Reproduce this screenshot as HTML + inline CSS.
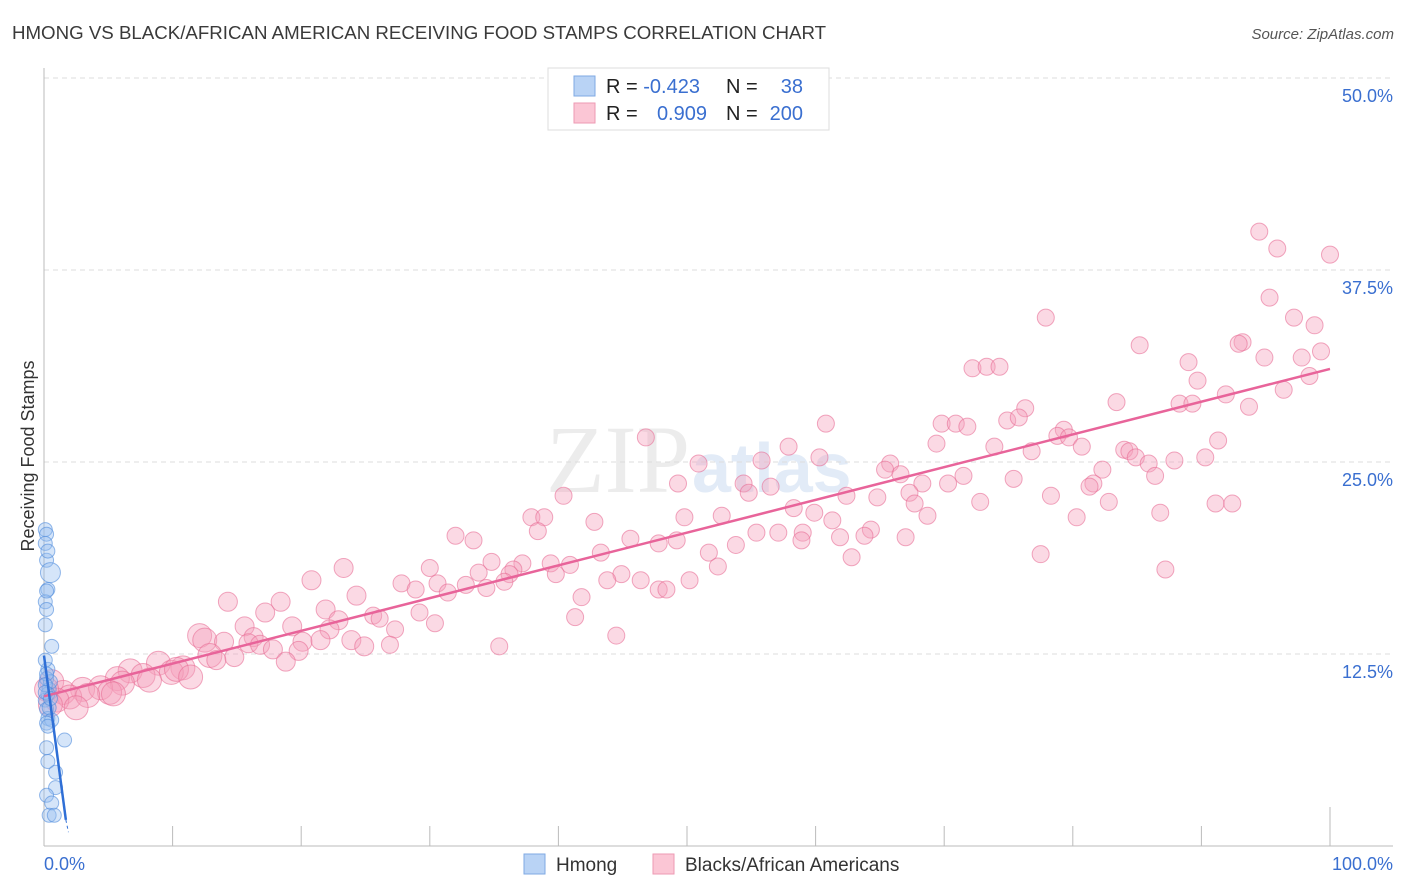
<!DOCTYPE html>
<html><head><meta charset="utf-8"><style>
body{margin:0;background:#fff;font-family:"Liberation Sans",sans-serif}
svg{display:block}
</style></head><body>
<svg id="chart" width="1406" height="892" viewBox="0 0 1406 892">
<text x="12" y="39" font-size="18.7" fill="#3a3a3a">HMONG VS BLACK/AFRICAN AMERICAN RECEIVING FOOD STAMPS CORRELATION CHART</text>
<text x="1394" y="39" font-size="15" fill="#555" font-style="italic" text-anchor="end">Source: ZipAtlas.com</text>
<text x="690" y="492" font-size="96" fill="#ececec" text-anchor="end" font-family="Liberation Serif,serif">ZIP</text>
<text x="692" y="492" font-size="70" fill="#e2ebf7" font-weight="bold">atlas</text>
<text transform="translate(34,456) rotate(-90)" font-size="18" fill="#333" text-anchor="middle">Receiving Food Stamps</text>
<g id="grid"></g>
<g id="axes"></g>
<g id="pink"></g>
<g id="blue"></g>
<g id="lines"></g>
<g>
<rect x="548" y="68" width="281" height="62" fill="#fff" stroke="#ddd"/>
<rect x="574" y="76" width="21" height="20" fill="#b9d3f5" stroke="#7fa9e3"/>
<rect x="574" y="103" width="21" height="20" fill="#fbc6d5" stroke="#ee9ab3"/>
<text x="606" y="93" font-size="20" fill="#222">R = <tspan fill="#3a6fd0">-0.423</tspan></text>
<text x="726" y="93" font-size="20" fill="#222">N = </text>
<text x="803" y="93" font-size="20" fill="#3a6fd0" text-anchor="end">38</text>
<text x="606" y="120" font-size="20" fill="#222">R = </text>
<text x="707" y="120" font-size="20" fill="#3a6fd0" text-anchor="end">0.909</text>
<text x="726" y="120" font-size="20" fill="#222">N = </text>
<text x="803" y="120" font-size="20" fill="#3a6fd0" text-anchor="end">200</text>
</g>
<g>
<rect x="524" y="854" width="21" height="20" fill="#b9d3f5" stroke="#7fa9e3"/>
<text x="556" y="871" font-size="19" fill="#333">Hmong</text>
<rect x="653" y="854" width="21" height="20" fill="#fbc6d5" stroke="#ee9ab3"/>
<text x="685" y="871" font-size="19" fill="#333">Blacks/African Americans</text>
</g>
</svg>
<script>
const yTicks=[12.5,25,37.5,50];
const yTickLabels=["12.5%","25.0%","37.5%","50.0%"];
const xTicks=[0,10,20,30,40,50,60,70,80,90,100];
const xEndLabels=["0.0%","100.0%"];
const pinkX=[94.5,95.9,100,95.3,77.9,97.2,98.8,85.2,93.2,92.9,99.3,94.9,97.8,89,72.2,73.3,74.3,89.7,96.4,98.4,91.9,83.4,88.3,89.3,93.7,76.3,74.9,75.8,60.8,69.8,70.9,71.8,79.3,78.8,79.7,46.8,91.3,69.4,73.9,57.9,76.8,80.7,84,84.4,84.9,60.3,55.8,85.9,87.9,90.3,50.9,65.8,65.4,66.6,82.3,86.4,75.4,71.5,49.3,54.4,56.5,81.6,81.3,68.3,70.3,40.4,54.8,62.4,64.8,67.3,78.3,72.8,82.8,67.7,91.1,92.4,58.3,59.9,86.8,37.9,38.9,49.8,52.7,61.3,68.7,80.3,42.8,38.4,55.4,57.1,59,64.3,32,33.4,45.6,47.8,49.2,53.8,58.9,61.9,63.8,67,43.3,51.7,77.5,62.8,34.8,37.2,39.4,40.9,30,36.5,36.2,52.4,87.2,23.3,33.8,39.8,44.9,46.4,43.8,50.2,20.8,27.8,30.6,28.9,32.8,34.4,35.8,47.8,48.4,31.4,24.3,41.8,14.3,18.4,21.9,17.2,29.2,25.6,26.1,22.9,41.3,15.6,30.4,19.3,27.3,22.2,44.5,12.1,12.5,14,16.3,15.9,16.8,20.1,21.5,23.9,17.8,19.8,24.9,26.9,35.4,12.9,14.8,13.4,18.8,8.9,10.8,9.9,10.3,6.7,7.7,8.2,5.7,11.4,6.1,3,4.4,5.1,0.6,1.5,2.0,3.4,1.0,2.5,5.4,0.2,0.5];
const pinkY=[40.0,38.9,38.5,35.7,34.4,34.4,33.9,32.6,32.8,32.7,32.2,31.8,31.8,31.5,31.1,31.2,31.2,30.3,29.7,30.6,29.4,28.9,28.8,28.8,28.6,28.5,27.7,27.9,27.5,27.5,27.5,27.3,27.1,26.7,26.6,26.6,26.4,26.2,26.0,26.0,25.7,26.0,25.8,25.7,25.3,25.3,25.1,24.9,25.1,25.3,24.9,24.9,24.5,24.2,24.5,24.1,23.9,24.1,23.6,23.6,23.4,23.6,23.4,23.6,23.6,22.8,23.0,22.8,22.7,23.0,22.8,22.4,22.4,22.3,22.3,22.3,22.0,21.7,21.7,21.4,21.4,21.4,21.5,21.2,21.5,21.4,21.1,20.5,20.4,20.4,20.4,20.6,20.2,19.9,20.0,19.7,19.9,19.6,19.9,20.1,20.2,20.1,19.1,19.1,19.0,18.8,18.5,18.4,18.4,18.3,18.1,18,17.7,18.2,18.0,18.1,17.8,17.7,17.7,17.3,17.3,17.3,17.3,17.1,17.1,16.7,17.0,16.8,17.2,16.7,16.7,16.5,16.3,16.2,15.9,15.9,15.4,15.2,15.2,15.0,14.8,14.7,14.9,14.3,14.5,14.3,14.1,14.1,13.7,13.7,13.4,13.3,13.6,13.2,13.1,13.3,13.4,13.4,12.8,12.7,13.0,13.1,13.0,12.4,12.3,12.1,12.0,11.9,11.6,11.3,11.5,11.4,11.1,10.8,10.9,11.0,10.6,10.2,10.3,10.0,10.7,10.0,9.7,9.8,9.5,9.0,9.9,10.2,9.2];
const blueX=[0.1,0.2,0.1,0.2,0.5,0.3,0.1,0.2,0.1,0.6,0.3,0.2,0.4,0.1,0.2,0.3,0.6,1.6,0.2,0.3,0.9,0.9,0.2,0.6,0.4,0.8,0.1,0.5,0.2,0.3,0.1,0.4,0.2,0.3,0.1,0.5,0.2,0.3];
const blueY=[20.6,20.3,19.7,18.6,17.8,16.7,15.9,15.4,14.4,13.0,11.5,10.9,10.2,9.5,8.9,8.3,8.2,6.9,6.4,5.5,4.8,3.8,3.3,2.8,2.0,2.0,12.1,10.7,11.2,9.9,10.5,9.0,8.0,7.8,10.0,9.6,16.6,19.2];
const X=v=>44+v*12.86, Y=v=>846-v*15.36;
const NS="http://www.w3.org/2000/svg";
function mk(t,a,p){const e=document.createElementNS(NS,t);for(const k in a)e.setAttribute(k,a[k]);p.appendChild(e);return e;}
const grid=document.getElementById('grid'),axes=document.getElementById('axes');
yTicks.forEach((t,i)=>{
 const l=mk('line',{x1:44,x2:1393,y1:Y(t),y2:Y(t),stroke:'#ddd','stroke-dasharray':'5,4'},grid);
 
 
 const tx=mk('text',{x:1393,y:Y(t)+24,'font-size':18,fill:'#3a6fd0','text-anchor':'end'},axes);
 tx.textContent=yTickLabels[i];
 
 
});
const ya=mk('line',{x1:44,x2:44,y1:68,y2:846,stroke:'#bbb'},axes);


const xa=mk('line',{x1:44,x2:1393,y1:846,y2:846,stroke:'#bbb'},axes);


xTicks.forEach(t=>{
 const l=mk('line',{x1:X(t),x2:X(t),y1:t==100?807:826,y2:846,stroke:'#bbb'},axes);
 
 
});
[[0,'start',44],[100,'end',1393]].forEach((d,i)=>{
 const tx=mk('text',{x:d[2],y:870,'font-size':18,fill:'#3a6fd0','text-anchor':d[1]},axes);
 tx.textContent=xEndLabels[i];
 
 
});
const pg=document.getElementById('pink');
pinkX.forEach((x,i)=>{
 const r=x<13?12:(x<25?9.5:8.5);
 const c=mk('circle',{cx:X(x),cy:Y(pinkY[i]),r:r,fill:'rgba(246,160,188,0.4)',stroke:'rgba(232,110,150,0.6)','stroke-width':1},pg);
 
 
});
const bg=document.getElementById('blue');
blueX.forEach((x,i)=>{
 const c=mk('circle',{cx:X(x),cy:Y(blueY[i]),r:i==4?10:7,fill:'rgba(150,190,240,0.4)',stroke:'rgba(80,140,220,0.6)','stroke-width':1},bg);
 
 
});
function fit(xs,ys){const n=xs.length;let mx=0,my=0;xs.forEach((x,i)=>{mx+=x;my+=ys[i]});mx/=n;my/=n;let sxy=0,sxx=0;xs.forEach((x,i)=>{sxy+=(x-mx)*(ys[i]-my);sxx+=(x-mx)**2});const b=sxy/sxx;return [my-b*mx,b];}
const lg=document.getElementById('lines');
const pf=fit(pinkX,pinkY);
const pl=mk('line',{x1:X(0),y1:Y(pf[0]),x2:X(100),y2:Y(pf[0]+pf[1]*100),stroke:'#e8649a','stroke-width':2.5},lg);


const bl=mk('line',{x1:X(0),y1:Y(12.4),x2:X(1.7),y2:Y(1.7),stroke:'#2f6fd6','stroke-width':2.5},lg);


const bd=mk('line',{x1:X(1.7),y1:Y(1.7),x2:X(1.9),y2:Y(0.9),stroke:'#2f6fd6','stroke-width':1,'stroke-dasharray':'3,3'},lg);


</script>
</body></html>
